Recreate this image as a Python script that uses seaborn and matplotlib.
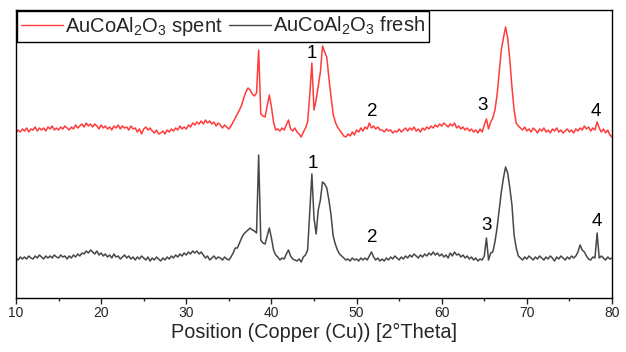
import numpy as np
import pandas as pd
import matplotlib
matplotlib.use("Agg")
import matplotlib.pyplot as plt
import seaborn as sns

# 2-theta sampling positions (degrees), 0.25 deg step
two_theta = np.arange(10.0, 80.001, 0.25)

# Intensity (arbitrary units, offset stacked)
spent = [
    167, 170, 168, 171,  169, 172, 168, 171,  170, 173, 169, 172,  170, 172, 169, 173,   # 10-13
    171, 174, 170, 172,  170, 173, 171, 174,  172, 170, 173, 171,  175, 172, 174, 176,   # 14-17
    173, 177, 174, 176,  173, 176, 174, 171,  175, 172, 174, 171,  173, 170, 174, 172,   # 18-21
    175, 171, 174, 172,  173, 170, 174, 171,  172, 168, 171, 166,  171, 173, 170, 172,   # 22-25
    169, 167, 170, 166,  167, 169, 166, 170,  168, 171, 169, 172,  170, 174, 171, 173,   # 26-29
    171, 175, 173, 177,  175, 178, 176, 179,  176, 180, 177, 179,  176, 178, 174, 177,   # 30-33
    175, 172, 175, 173,  171, 174, 178, 182,  186, 190, 195, 202,  208, 212, 210, 206,   # 34-37
    204, 207, 250, 186,  184, 183, 194, 205,  193, 178, 170, 171,  169, 172, 170, 175,   # 38-41
    180, 171, 169, 172,  168, 166, 163, 168,  172, 178, 205, 237,  190, 200, 214, 228,   # 42-45
    254, 248, 243, 222,  203, 186, 178, 173,  170, 167, 164, 163,  166, 164, 168, 165,   # 46-49
    170, 168, 172, 169,  173, 171, 177, 172,  174, 171, 173, 170,  170, 168, 171, 169,   # 50-53
    170, 167, 169, 168,  171, 168, 170, 172,  169, 172, 170, 173,  169, 171, 168, 172,   # 54-57
    170, 173, 171, 174,  172, 175, 173, 176,  174, 177, 175, 173,  176, 174, 177, 172,   # 58-61
    174, 171, 173, 170,  172, 169, 171, 168,  170, 167, 171, 168,  175, 181, 171, 178,   # 62-65
    182, 190, 205, 228,  250, 262, 273, 262,  240, 213, 190, 177,  174, 172, 170, 173,   # 66-69
    169, 171, 168, 172,  170, 167, 171, 169,  172, 168, 170, 167,  171, 169, 172, 168,   # 70-73
    170, 167, 169, 171,  168, 170, 167, 171,  169, 172, 170, 174,  171, 173, 169, 172,   # 74-77
    170, 178, 172, 168,  171, 167, 170, 165,  163,                                       # 78-80
]

fresh = [
    42, 40, 43, 41,  43, 41, 44, 42,  41, 44, 42, 45,  43, 41, 44, 42,    # 10-13
    44, 42, 45, 43,  42, 45, 43, 44,  41, 44, 42, 45,  43, 46, 44, 47,    # 14-17
    46, 49, 47, 50,  48, 46, 49, 45,  47, 44, 46, 43,  45, 42, 46, 43,    # 18-21
    44, 41, 43, 45,  42, 44, 41, 43,  40, 43, 41, 44,  42, 40, 43, 39,    # 22-25
    42, 40, 43, 41,  39, 42, 40, 43,  41, 44, 42, 45,  43, 46, 44, 47,    # 26-29
    45, 48, 46, 49,  47, 49, 46, 48,  45, 42, 44, 40,  42, 44, 41, 43,    # 30-33
    42, 40, 43, 41,  40, 43, 47, 52,  52, 57, 62, 66,  68, 70, 72, 70,    # 34-37
    69, 67, 145, 60,  57, 56, 64, 72,  62, 50, 45, 43,  40, 42, 41, 46,   # 38-41
    50, 44, 41, 40,  39, 41, 38, 43,  45, 50, 88, 126,  82, 66, 90, 100,  # 42-45
    118, 116, 112, 100,  85, 64, 56, 50,  46, 44, 42, 40,  41, 39, 42, 40,  # 46-49
    41, 39, 42, 40,  42, 40, 44, 48,  43, 40, 42, 39,  41, 39, 42, 40,    # 50-53
    43, 41, 44, 42,  40, 43, 41, 44,  42, 45, 43, 46,  44, 42, 45, 43,    # 54-57
    46, 44, 47, 45,  48, 45, 47, 44,  46, 43, 45, 42,  47, 44, 48, 45,    # 58-61
    46, 43, 45, 42,  44, 41, 43, 40,  42, 39, 41, 40,  44, 62, 40, 47,    # 62-65
    48, 58, 72, 90,  108, 122, 133, 127,  112, 95, 65, 52,  44, 42, 40, 43,  # 66-69
    41, 44, 42, 40,  43, 41, 44, 42,  40, 43, 41, 44,  42, 39, 43, 41,    # 70-73
    44, 42, 40, 43,  41, 44, 42, 44,  48, 55, 50, 48,  44, 41, 40, 43,    # 74-77
    42, 67, 42, 44,  42, 40, 43, 41,  42,                                 # 78-80
]

series_labels = [r"AuCoAl$_2$O$_3$ spent", r"AuCoAl$_2$O$_3$ fresh"]
series_colors = ["#ff3b3b", "#474747"]

peak_labels = ["1", "2", "3", "4"]
spent_label_x = [44.8, 51.8, 64.85, 78.15]
spent_label_y = [247, 188, 195, 189]
fresh_label_x = [44.9, 51.8, 65.3, 78.2]
fresh_label_y = [137, 63, 75, 78]

x_ticks = [10, 20, 30, 40, 50, 60, 70, 80]
x_label = "Position (Copper (Cu)) [2°Theta]"

df = pd.DataFrame({
    "two_theta": np.concatenate([two_theta, two_theta]),
    "intensity": np.concatenate([spent, fresh]),
    "sample": [series_labels[0]] * len(spent) + [series_labels[1]] * len(fresh),
})

sns.set_style("ticks")
plt.rcParams["font.family"] = ["Liberation Sans", "DejaVu Sans"]
plt.rcParams["mathtext.fontset"] = "custom"
plt.rcParams["mathtext.rm"] = "Liberation Sans"
plt.rcParams["mathtext.it"] = "Liberation Sans"

fig = plt.figure(figsize=(6.26, 3.52), dpi=100)
ax = fig.add_axes([16 / 626, 1 - 298 / 352, (612 - 16) / 626, (298 - 10) / 352])

sns.lineplot(data=df, x="two_theta", y="intensity", hue="sample",
             hue_order=series_labels, palette=series_colors,
             linewidth=1.1, ax=ax, legend=False, estimator=None, sort=False)

for lab, xx, yy in zip(peak_labels, spent_label_x, spent_label_y):
    ax.text(xx, yy, lab, ha="center", va="center", fontsize=13.5, color="black")
for lab, xx, yy in zip(peak_labels, fresh_label_x, fresh_label_y):
    ax.text(xx, yy, lab, ha="center", va="center", fontsize=13.5, color="black")

ax.set_xlim(10, 80)
ax.set_ylim(2, 290)
ax.set_xticks(x_ticks)
ax.set_xticks(np.arange(15, 80, 10), minor=True)
ax.set_yticks([])
ax.set_ylabel("")
ax.set_xlabel(x_label, fontsize=14.3, labelpad=2)
ax.tick_params(axis="x", which="major", direction="out", length=4, width=1,
               labelsize=10, pad=2, top=False)
ax.tick_params(axis="x", which="minor", direction="out", length=2.5, width=1, top=False)
for sp in ax.spines.values():
    sp.set_visible(True)
    sp.set_color("black")
    sp.set_linewidth(1.0)

handles = [plt.Line2D([], [], color=c, linewidth=1.0) for c in series_colors]
leg = ax.legend(handles, series_labels, loc="upper left", bbox_to_anchor=(0.0, 1.0),
                ncol=2, frameon=True, fancybox=False, fontsize=14.5,
                borderaxespad=0.05, handlelength=2.1, handletextpad=0.1,
                columnspacing=0.3, borderpad=0.2)
leg.get_frame().set_edgecolor("black")
leg.get_frame().set_linewidth(1.0)
leg.get_frame().set_facecolor("white")
leg.get_frame().set_alpha(1.0)

fig.savefig("out.png", dpi=100)
